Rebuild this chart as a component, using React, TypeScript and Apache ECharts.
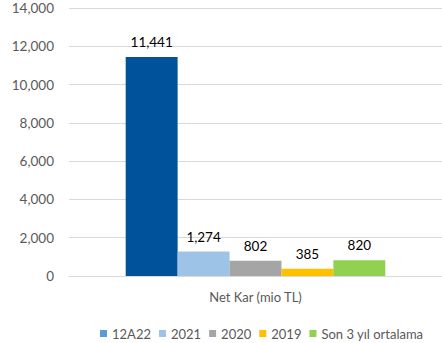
import React, { useEffect, useRef } from "react";
import * as echarts from "echarts";

const categories = ["Net Kar (mio TL)"];
const seriesNames = ["12A22", "2021", "2020", "2019", "Son 3 yıl ortalama"];
const seriesValues = [[11441], [1274], [802], [385], [820]];
const barColors = ["#00529B", "#9DC3E6", "#A5A5A5", "#FFC000", "#92D050"];
const legendColors = ["#5B9BD5", "#9DC3E6", "#A5A5A5", "#FFC000", "#92D050"];
const yTicks = { min: 0, max: 14000, interval: 2000 };

const FONT = "Lato, 'Open Sans', sans-serif";

export default function App() {
  const ref = useRef<HTMLDivElement>(null);
  useEffect(() => {
    if (!ref.current) return;
    const chart = echarts.init(ref.current, undefined, { renderer: "svg" });
    chart.setOption({
      animation: false,
      textStyle: { fontFamily: FONT },
      grid: { left: 69, top: 8, width: 381, height: 268, containLabel: false },
      legend: {
        left: 95,
        top: 322,
        width: 345,
        itemWidth: 7,
        itemHeight: 7,
        itemGap: 8,
        icon: "rect",
        textStyle: { color: "#595959", fontSize: 13, fontFamily: FONT },
        data: seriesNames.map((n, i) => ({ name: n, itemStyle: { color: legendColors[i] } })),
      },
      xAxis: {
        type: "category",
        data: categories,
        axisLine: { show: true, lineStyle: { color: "#D9D9D9" } },
        axisTick: { show: false },
        axisLabel: { color: "#595959", fontSize: 13, margin: 14, fontFamily: FONT },
      },
      yAxis: {
        type: "value",
        min: yTicks.min,
        max: yTicks.max,
        interval: yTicks.interval,
        axisLine: { show: false },
        axisTick: { show: false },
        splitLine: { lineStyle: { color: "#D9D9D9" } },
        axisLabel: {
          color: "#595959",
          fontSize: 13.5,
          margin: 15,
          fontFamily: FONT,
          formatter: (v: number) => v.toLocaleString("en-US"),
        },
      },
      series: seriesNames.map((n, i) => ({
        name: n,
        type: "bar",
        data: seriesValues[i],
        barGap: "0%",
        barCategoryGap: "30.4%",
        itemStyle: { color: barColors[i] },
        label: {
          show: true,
          position: "top",
          distance: 8,
          color: "#000000",
          fontSize: 13.5,
          fontFamily: FONT,
          formatter: (p: any) => Number(p.value).toLocaleString("en-US"),
        },
      })),
    });
    return () => chart.dispose();
  }, []);
  return (
    <div
      ref={ref}
      style={{ position: "fixed", left: 0, top: 0, width: 442, height: 343, background: "#fff" }}
    />
  );
}
